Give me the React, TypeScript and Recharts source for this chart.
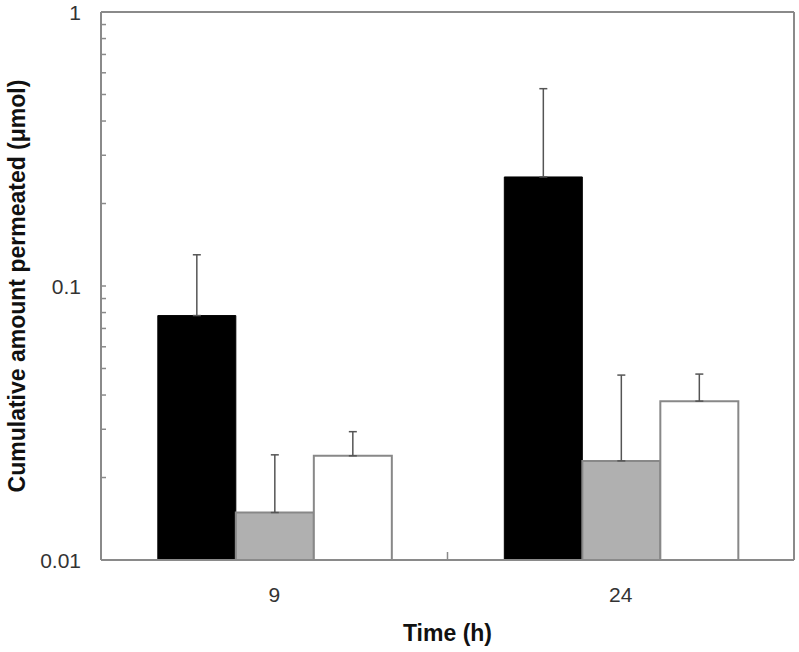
import { BarChart, Bar, XAxis, YAxis, ErrorBar, Label, CartesianGrid } from 'recharts'

const categories = ['9', '24']
const blackValues = [0.078, 0.25]
const blackErrors = [0.052, 0.275]
const grayValues = [0.0149, 0.023]
const grayErrors = [0.0093, 0.0243]
const whiteValues = [0.024, 0.038]
const whiteErrors = [0.0054, 0.0097]

const majorTicks = [0.01, 0.1, 1]
const yTicks = [
	0.01, 0.02, 0.03, 0.04, 0.05, 0.06, 0.07, 0.08, 0.09,
	0.1, 0.2, 0.3, 0.4, 0.5, 0.6, 0.7, 0.8, 0.9, 1
]

const data = categories.map((time, i) => ({
	time,
	black: blackValues[i],
	blackErr: [0, blackErrors[i]],
	gray: grayValues[i],
	grayErr: [0, grayErrors[i]],
	white: whiteValues[i],
	whiteErr: [0, whiteErrors[i]]
}))

const FONT = '"Liberation Sans", Arial, sans-serif'
const AXIS = '#8a8a8a'

const YTick = ({ x, y, payload }: any) => {
	const major = majorTicks.includes(payload.value)
	return (
		<g>
			<line x1={x} x2={x + 5} y1={y} y2={y} stroke={AXIS} strokeWidth={1.5} />
			{major && (
				<text x={x - 20} y={y} textAnchor="end" dominantBaseline="central" fontSize={21} fill="#333" fontFamily={FONT}>
					{payload.value}
				</text>
			)}
		</g>
	)
}

const XTick = ({ x, y, payload, index }: any) => (
	<g>
		{index === 0 && (
			<line x1={x + payload.offset} x2={x + payload.offset} y1={y} y2={y - 8} stroke={AXIS} strokeWidth={1.5} />
		)}
		<text x={x} y={y + 34} textAnchor="middle" dominantBaseline="central" fontSize={21} fill="#333" fontFamily={FONT}>
			{payload.value}
		</text>
	</g>
)

const App = () => {
	return (
		<div style={{ position: 'absolute', left: 0, top: 0, width: 799, height: 652, background: '#fff' }}>
			<BarChart
				width={799}
				height={652}
				data={data}
				margin={{ top: 12, right: 5, bottom: 0, left: 0 }}
				barCategoryGap="16.4%"
				barGap={0}
			>
				{/* top and right frame lines of the plot box */}
				<CartesianGrid
					stroke={AXIS}
					strokeWidth={2}
					horizontalCoordinatesGenerator={({ offset }: any) => [offset.top]}
					verticalCoordinatesGenerator={({ offset }: any) => [offset.left + offset.width]}
				/>
				<XAxis
					dataKey="time"
					height={92}
					stroke={AXIS}
					strokeWidth={2}
					tickSize={0}
					tickMargin={0}
					tickLine={false}
					tick={<XTick />}
					interval={0}
				>
					<Label
						content={({ viewBox }: any) => (
							<text
								x={viewBox.x + viewBox.width / 2}
								y={viewBox.y + 73}
								textAnchor="middle"
								dominantBaseline="central"
								fontSize={23}
								fontWeight="bold"
								fontFamily={FONT}
								fill="#111"
							>
								Time (h)
							</text>
						)}
					/>
				</XAxis>
				<YAxis
					type="number"
					scale="log"
					domain={[0.01, 1]}
					ticks={yTicks}
					interval={0}
					allowDataOverflow
					width={101}
					stroke={AXIS}
					strokeWidth={2}
					tickSize={0}
					tickMargin={0}
					tickLine={false}
					tick={<YTick />}
				>
					<Label
						content={({ viewBox }: any) => {
							const cx = 17
							const cy = viewBox.y + viewBox.height / 2
							return (
								<text
									x={cx}
									y={cy}
									transform={`rotate(-90 ${cx} ${cy})`}
									textAnchor="middle"
									dominantBaseline="central"
									fontSize={23}
									fontWeight="bold"
									fontFamily={FONT}
									fill="#111"
								>
									Cumulative amount permeated (μmol)
								</text>
							)
						}}
					/>
				</YAxis>
				<Bar dataKey="black" fill="#000" stroke="#000" strokeWidth={1} isAnimationActive={false}>
					<ErrorBar dataKey="blackErr" width={4} stroke="#555" strokeWidth={1.5} />
				</Bar>
				<Bar dataKey="gray" fill="#b0b0b0" stroke="#888" strokeWidth={2} isAnimationActive={false}>
					<ErrorBar dataKey="grayErr" width={4} stroke="#555" strokeWidth={1.5} />
				</Bar>
				<Bar dataKey="white" fill="#fff" stroke="#888" strokeWidth={2} isAnimationActive={false}>
					<ErrorBar dataKey="whiteErr" width={4} stroke="#555" strokeWidth={1.5} />
				</Bar>
			</BarChart>
		</div>
	)
}

export default App
